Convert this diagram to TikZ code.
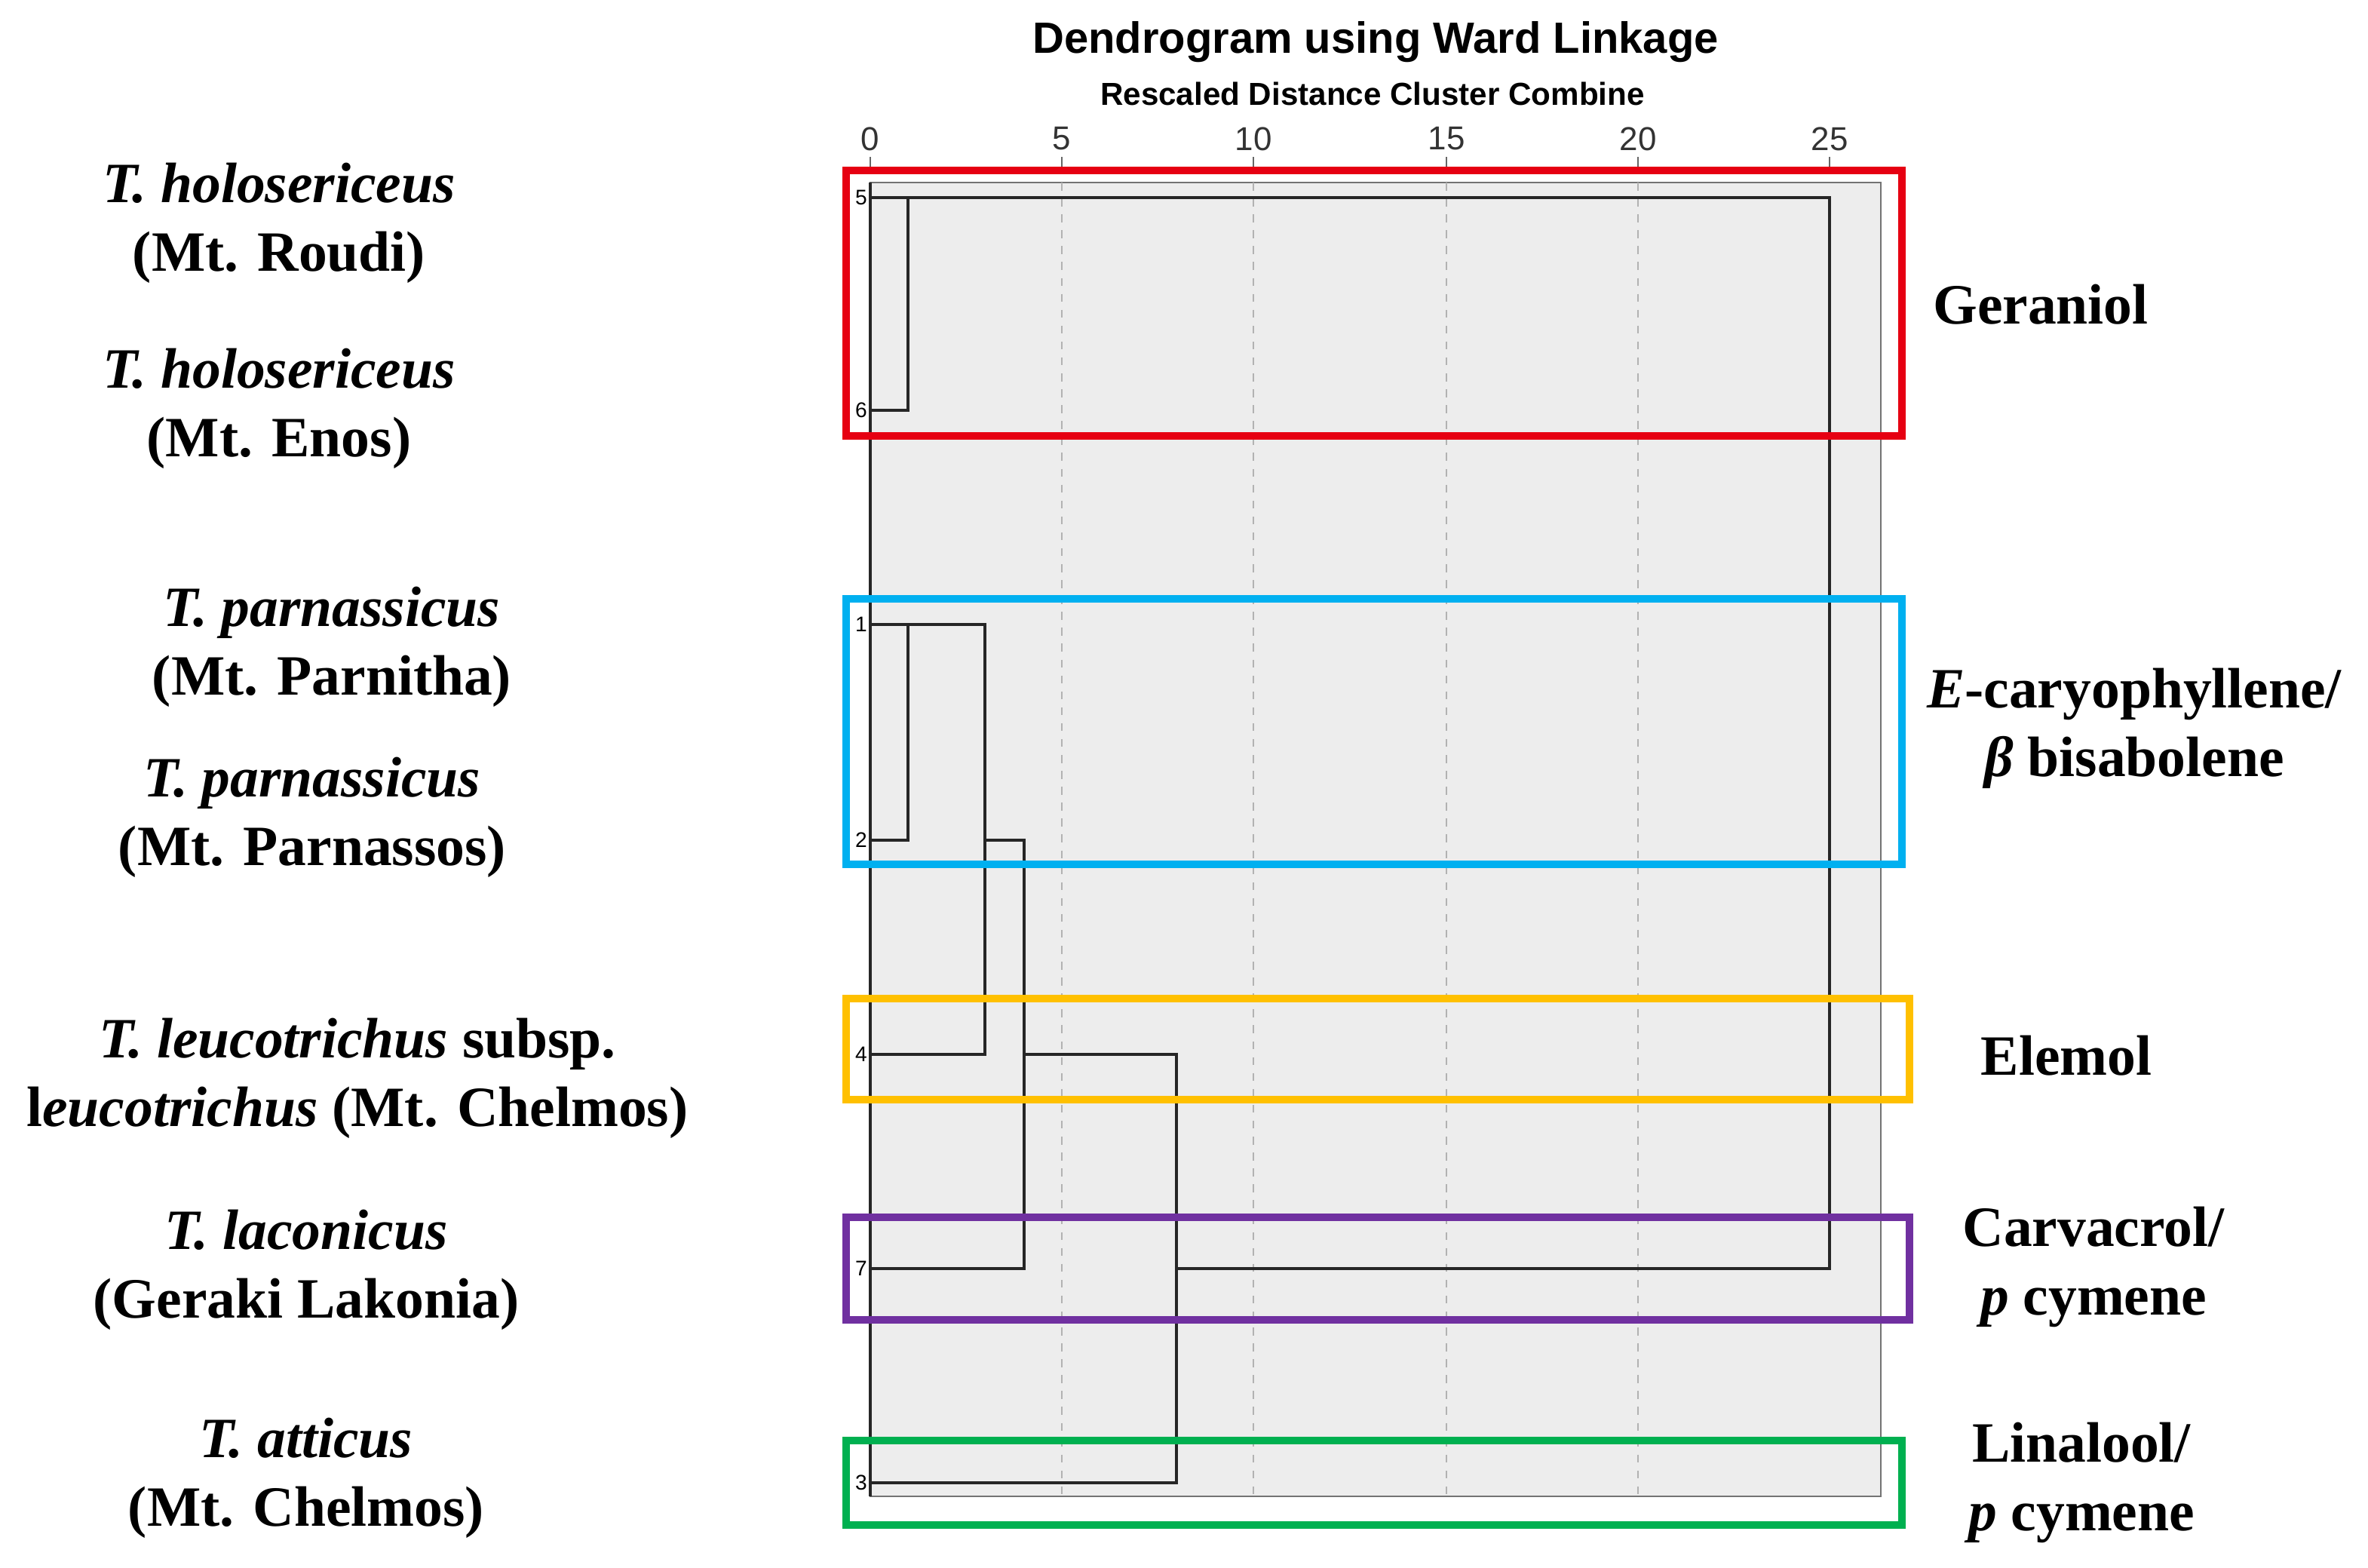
\documentclass[tikz,border=0pt]{standalone}
\usepackage{fontspec}
\setmainfont{Liberation Serif}
\newfontfamily\sansf{Liberation Sans}
\begin{document}
\begin{tikzpicture}[x=0.02cm,y=-0.02cm,
 lab/.style={font=\fontsize{21.5}{26}\selectfont\bfseries,align=center},
 box/.style={line width=2.6pt},
 den/.style={line width=0.9pt,black!85},
 tick/.style={font=\sansf\fontsize{12.5}{14}\selectfont,text=black!80},
 leaf/.style={font=\sansf\fontsize{8}{9}\selectfont,anchor=east,inner sep=1pt}]
\useasboundingbox (0,0) rectangle (1570,1039);
\definecolor{cred}{RGB}{230,0,18}
\definecolor{ccyan}{RGB}{0,176,240}
\definecolor{corange}{RGB}{255,192,0}
\definecolor{cpurple}{RGB}{112,48,160}
\definecolor{cgreen}{RGB}{0,176,80}
% title
\node[font=\sansf\bfseries\fontsize{16.5}{18}\selectfont] (title) at (912,28) {Dendrogram using Ward Linkage};
\node[font=\sansf\bfseries\fontsize{12}{14}\selectfont] (sub) at (910,62) {Rescaled Distance Cluster Combine};
% plot area
\fill[black!7] (577,121) rectangle (1247,992);
\draw[black!55,line width=0.8pt] (577,121) rectangle (1247,992);
\draw[den] (577,121) -- (577,992);
\foreach \v/\x in {0/577,5/704,10/831,15/959,20/1086,25/1213}{
  \node[tick] (t\v) at (\x,92) {\v};
  \draw[black!60] (\x,104)--(\x,112);
}
\foreach \x in {704,831,959,1086}{\draw[black!30,dashed] (\x,121)--(\x,992);}
% leaves
\foreach \n/\y in {5/131,6/272,1/414,2/557,4/699,7/841,3/983}{
  \coordinate (L\n) at (577,\y);
  \node[leaf] (n\n) at (577,\y) {\n};
}
% dendrogram
\draw[den] (L5) -| (602,272) -- (L6);
\draw[den] (L1) -| (602,557) -- (L2);
\draw[den] (602,414) -| (653,699) -- (L4);
\draw[den] (653,557) -| (679,841) -- (L7);
\draw[den] (679,699) -| (780,983) -- (L3);
\draw[den] (780,841) -| (1213,131) -- (602,131);
% coloured boxes
\draw[box,cred] (561,113) rectangle (1261,289);
\draw[box,ccyan] (561,397) rectangle (1261,573);
\draw[box,corange] (561,662) rectangle (1266,729);
\draw[box,cpurple] (561,807) rectangle (1266,875);
\draw[box,cgreen] (561,955) rectangle (1261,1011);
% right labels
\node[lab] (g) at (1353,202) {Geraniol};
\node[lab] (e) at (1415,483) {\textit{E}-caryophyllene/\\\textit{β} bisabolene};
\node[lab] (el) at (1370,700) {Elemol};
\node[lab] (c) at (1388,840) {Carvacrol/\\\textit{p} cymene};
\node[lab] (li) at (1380,983) {Linalool/\\\textit{p} cymene};
% left labels
\node[lab] (s5) at (185,148) {\textit{T. holosericeus}\\(Mt. Roudi)};
\node[lab] (s6) at (185,271) {\textit{T. holosericeus}\\(Mt. Enos)};
\node[lab] (s1) at (220,429) {\textit{T. parnassicus}\\(Mt. Parnitha)};
\node[lab] (s2) at (207,542) {\textit{T. parnassicus}\\(Mt. Parnassos)};
\node[lab] (s4) at (237,715) {\textit{T. leucotrichus} subsp.\\l\textit{eucotrichus} (Mt. Chelmos)};
\node[lab] (s7) at (203,842) {\textit{T. laconicus}\\(Geraki Lakonia)};
\node[lab] (s3) at (203,980) {\textit{T. atticus}\\(Mt. Chelmos)};
\end{tikzpicture}
\end{document}
